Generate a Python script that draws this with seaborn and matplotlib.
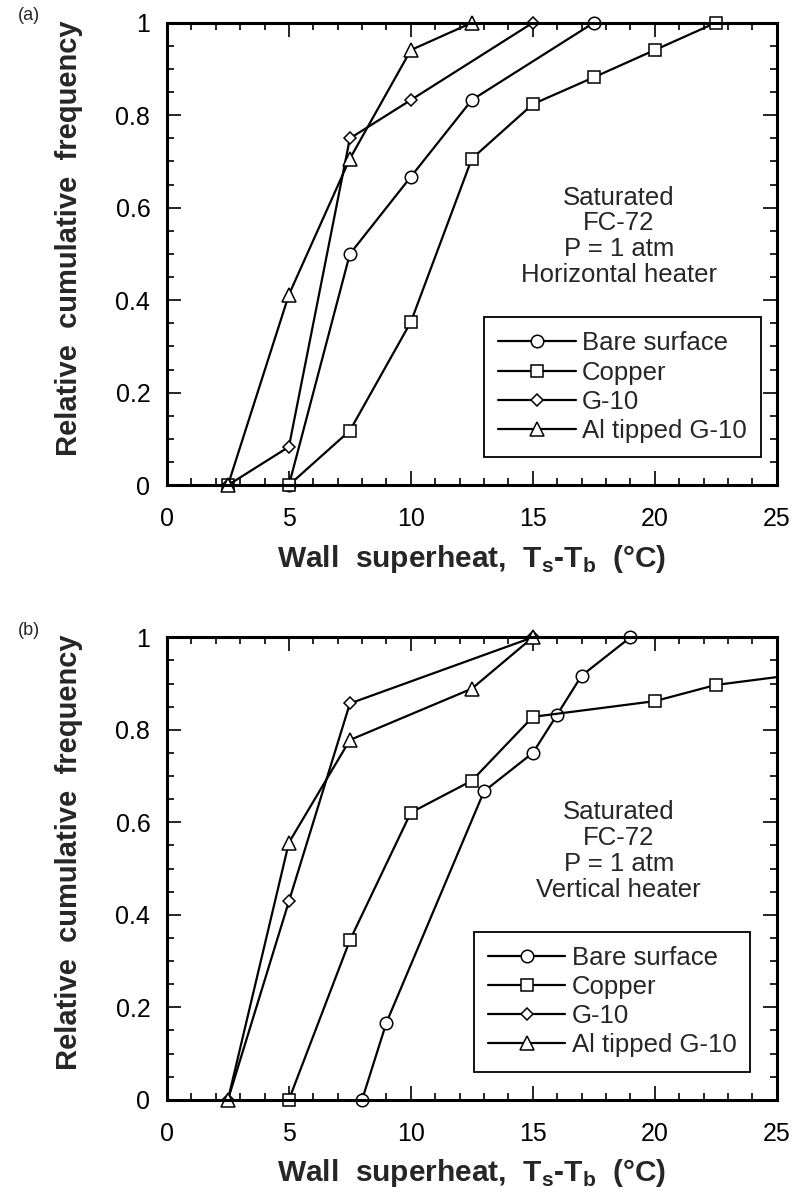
import matplotlib
matplotlib.use("Agg")
import matplotlib.pyplot as plt
from matplotlib.patches import Rectangle
from matplotlib.ticker import MultipleLocator
import pandas as pd
import seaborn as sns

# ---- data ----
series_names = ["Bare surface", "Copper", "G-10", "Al tipped G-10"]
series_markers = ["o", "s", "D", "^"]
marker_sizes = [9, 9, 6.5, 9.5]

# (a) horizontal heater
a_bare_x = [5, 7.5, 10, 12.5, 17.5]
a_bare_y = [0, 0.5, 0.667, 0.833, 1.0]
a_copper_x = [2.5, 5, 7.5, 10, 12.5, 15, 17.5, 20, 22.5]
a_copper_y = [0, 0, 0.118, 0.353, 0.706, 0.824, 0.882, 0.941, 1.0]
a_g10_x = [2.5, 5, 7.5, 10, 15]
a_g10_y = [0, 0.083, 0.75, 0.833, 1.0]
a_al_x = [2.5, 5, 7.5, 10, 12.5]
a_al_y = [0, 0.412, 0.706, 0.941, 1.0]

# (b) vertical heater
b_bare_x = [8, 9, 13, 15, 16, 17, 19]
b_bare_y = [0, 0.167, 0.667, 0.75, 0.833, 0.917, 1.0]
b_copper_x = [5, 7.5, 10, 12.5, 15, 20, 22.5, 27.5]
b_copper_y = [0, 0.345, 0.621, 0.690, 0.828, 0.862, 0.897, 0.931]
b_g10_x = [2.5, 5, 7.5, 15]
b_g10_y = [0, 0.429, 0.857, 1.0]
b_al_x = [2.5, 5, 7.5, 12.5, 15]
b_al_y = [0, 0.556, 0.778, 0.889, 1.0]

x_ticks = [0, 5, 10, 15, 20, 25]
x_tick_labels = ["0", "5", "10", "15", "20", "25"]
y_ticks = [0, 0.2, 0.4, 0.6, 0.8, 1.0]
y_tick_labels = ["0", "0.2", "0.4", "0.6", "0.8", "1"]

panel_tags = ["(a)", "(b)"]
panel_notes = ["Saturated\nFC-72\nP = 1 atm\nHorizontal heater",
               "Saturated\nFC-72\nP = 1 atm\nVertical heater"]

x_label = r"Wall  superheat,  $\mathbf{T}_\mathbf{s}$-$\mathbf{T}_\mathbf{b}$  (°C)"
y_label = "Relative  cumulative  frequency"


def make_frame(xs, ys):
    rows = []
    for name, x, y in zip(series_names, xs, ys):
        for xi, yi in zip(x, y):
            rows.append({"surface": name, "dT": xi, "freq": yi})
    return pd.DataFrame(rows)


panel_a = make_frame([a_bare_x, a_copper_x, a_g10_x, a_al_x],
                     [a_bare_y, a_copper_y, a_g10_y, a_al_y])
panel_b = make_frame([b_bare_x, b_copper_x, b_g10_x, b_al_x],
                     [b_bare_y, b_copper_y, b_g10_y, b_al_y])

sns.set_style("ticks")
plt.rcParams["font.family"] = ["Liberation Sans", "DejaVu Sans"]
plt.rcParams["mathtext.fontset"] = "custom"
plt.rcParams["mathtext.rm"] = "Liberation Sans"
plt.rcParams["mathtext.bf"] = "Liberation Sans:bold"

fig = plt.figure(figsize=(7.95, 11.98), dpi=100)
ax_a = fig.add_axes([0.210, 0.595, 0.767, 0.386])
ax_b = fig.add_axes([0.210, 0.082, 0.767, 0.386])


def draw_panel(ax, df, note, tag, legend_right):
    for name, m, ms in zip(series_names, series_markers, marker_sizes):
        sub = df[df["surface"] == name]
        sns.lineplot(data=sub, x="dT", y="freq", ax=ax, estimator=None,
                     color="black", linewidth=1.6, marker=m, markersize=ms,
                     markerfacecolor="white", markeredgecolor="black",
                     markeredgewidth=1.1, label=name)
    # clip only left/right so markers sitting on 0 and 1 stay whole
    for line in ax.get_lines():
        line.set_clip_path(Rectangle((0, -0.1), 1, 1.2, transform=ax.transAxes))

    ax.set_xlim(0, 25)
    ax.set_ylim(0, 1)
    ax.set_xticks(x_ticks)
    ax.set_xticklabels(x_tick_labels)
    ax.set_yticks(y_ticks)
    ax.set_yticklabels(y_tick_labels)
    ax.xaxis.set_minor_locator(MultipleLocator(1))
    ax.yaxis.set_minor_locator(MultipleLocator(0.05))
    ax.tick_params(which="both", direction="in", top=True, right=True,
                   colors="black", width=1.2)
    ax.tick_params(which="major", length=10)
    ax.tick_params(which="minor", length=5)
    ax.tick_params(axis="x", which="major", labelsize=18, pad=16)
    ax.tick_params(axis="y", which="major", labelsize=18, pad=12)
    for sp in ax.spines.values():
        sp.set_linewidth(2.2)
        sp.set_color("black")

    ax.set_xlabel(x_label, fontsize=21.5, fontweight="bold", labelpad=8)
    ax.set_ylabel(y_label, fontsize=21, fontweight="bold")
    ax.yaxis.set_label_coords(-0.137, 0.535)

    ax.text(0.741, 0.538, note, transform=ax.transAxes, ha="center",
            va="center", fontsize=18.5, linespacing=1.1)

    leg = ax.legend(loc="lower right", bbox_to_anchor=(legend_right, 0.061),
                    borderaxespad=0, fontsize=18.5, handlelength=3.0,
                    handletextpad=0.25, labelspacing=0.2, borderpad=0.55,
                    fancybox=False, framealpha=1, edgecolor="black")
    leg.get_frame().set_linewidth(1.3)

    fig.text(0.022, ax.get_position().y1 + 0.006, tag, fontsize=13,
             ha="left", va="center")


draw_panel(ax_a, panel_a, panel_notes[0], panel_tags[0], 0.974)
draw_panel(ax_b, panel_b, panel_notes[1], panel_tags[1], 0.957)

fig.savefig("out.png", dpi=100)
